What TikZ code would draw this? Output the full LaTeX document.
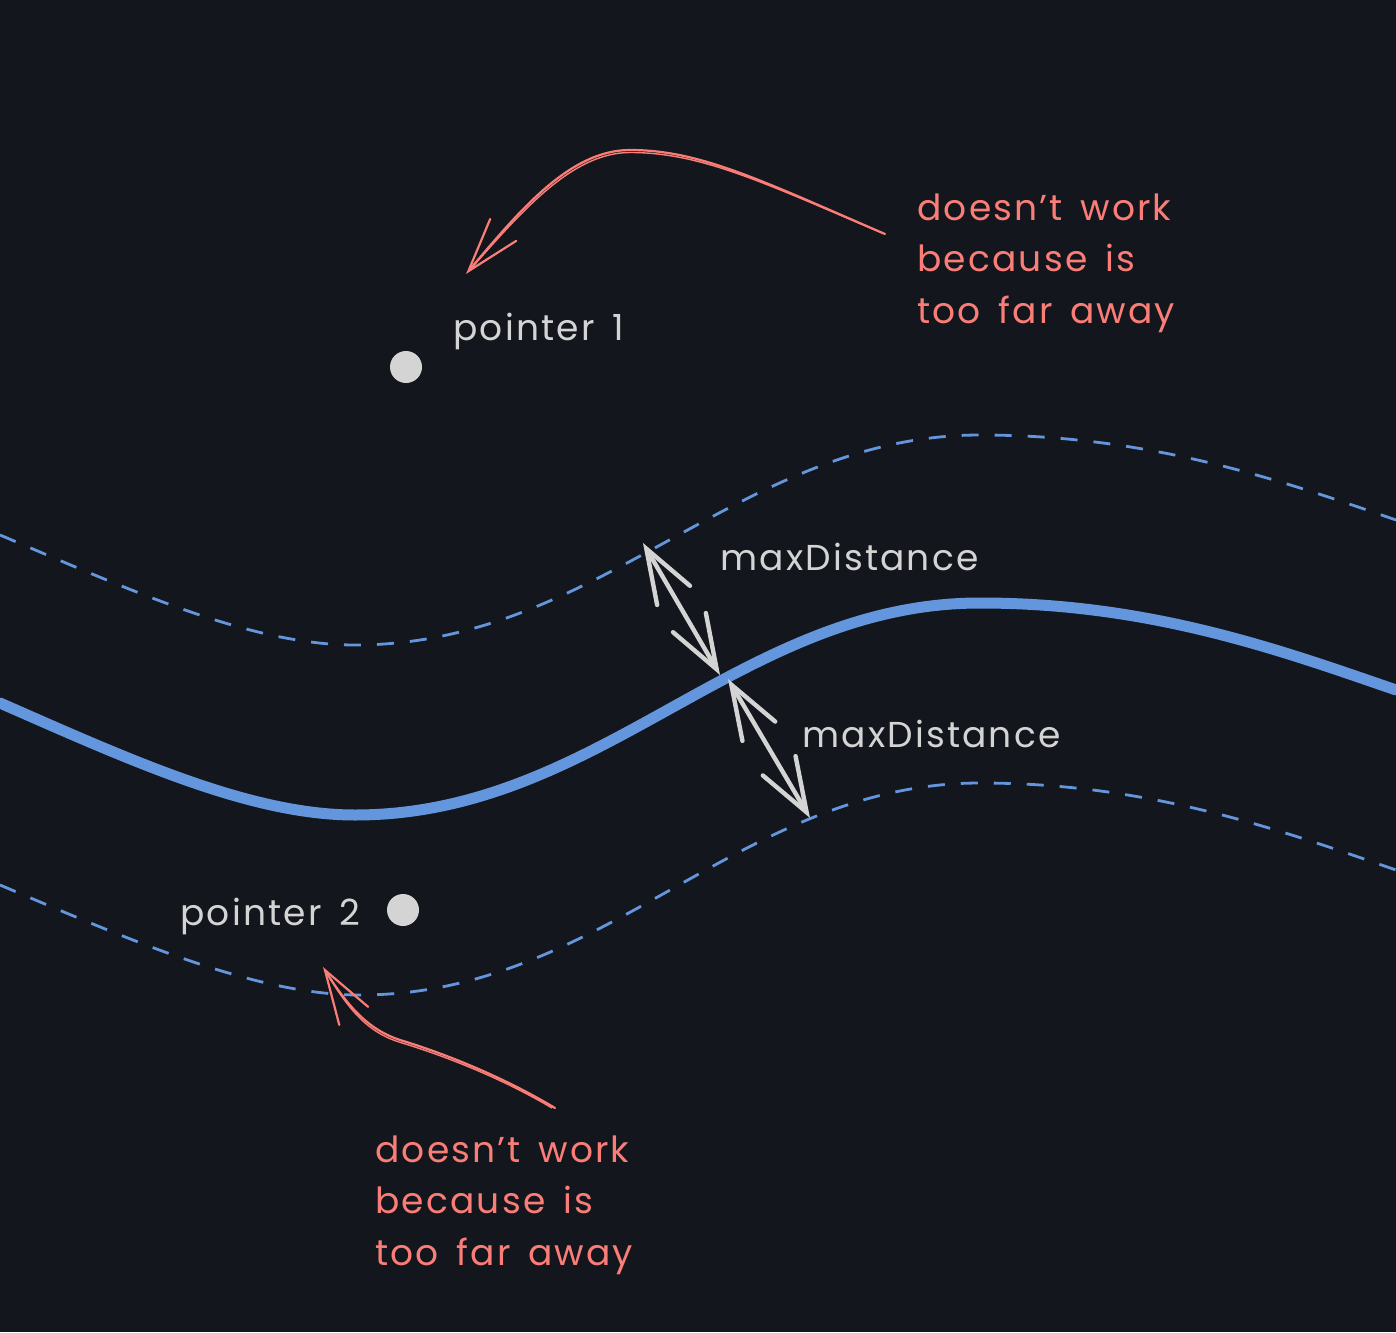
\documentclass[tikz,border=0pt]{standalone}
\usepackage{fontspec}
\setmainfont{Poppins}[LetterSpace=6, WordSpace=1.5]
\usetikzlibrary{arrows.meta}
\definecolor{bg}{HTML}{13161C}
\definecolor{curveblue}{HTML}{6396DC}
\definecolor{notered}{HTML}{FA7D78}
\definecolor{inkgray}{HTML}{D4D4D4}
\tikzset{
  txt/.style={inner sep=0pt, anchor=base west, font=\fontsize{18}{25.75}\selectfont},
  graytxt/.style={txt, text=inkgray},
  redtxt/.style={txt, text=notered, align=left},
  dot/.style={circle, fill=inkgray, draw=none, minimum size=16pt, inner sep=0pt},
  mainline/.style={curveblue, line width=5.5pt, line cap=round},
  limitline/.style={curveblue, line width=1.4pt, dash pattern=on 8.5pt off 8pt},
  measure/.style={inkgray, line width=2.2pt, line cap=round,
    {Straight Barb[length=27pt,width=19pt,line cap=round]}-{Straight Barb[length=27pt,width=19pt,line cap=round]}},
  note/.style={notered, line width=1.1pt, line cap=round,
    -{Straight Barb[length=27pt,width=17pt,line cap=round]}},
}
\begin{document}
\begin{tikzpicture}[x=0.5pt,y=-0.5pt]
\useasboundingbox (0,0) rectangle (1396,1332);
\fill[bg] (0,0) rectangle (1396,1332);

% curves
\draw[mainline] (0,703) .. controls (130,760) and (250,815) .. (355,815)
  .. controls (600,815) and (740,603) .. (980,603)
  .. controls (1150,603) and (1280,650) .. (1396,690);
\draw[limitline] (0,535) .. controls (130,590) and (250,645) .. (355,645)
  .. controls (600,645) and (740,435) .. (980,435)
  .. controls (1150,435) and (1280,480) .. (1396,520);
\draw[limitline] (0,885) .. controls (130,940) and (255,995) .. (360,995)
  .. controls (605,995) and (740,783) .. (980,783)
  .. controls (1150,783) and (1280,830) .. (1396,870);

% points
\node[dot] (p1) at (406,367) {};
\node[dot] (p2) at (403,910) {};
\node[graytxt] (p1lbl) at (453,340) {pointer 1};
\node[graytxt] (p2lbl) at (180,925) {pointer 2};

% maxDistance measures
\coordinate (upTop) at (643,543);
\coordinate (upBot) at (720,675);
\coordinate (loTop) at (728,679);
\coordinate (loBot) at (810,818);
\draw[measure] (upTop) -- (upBot);
\draw[measure] (loTop) -- (loBot);
\node[graytxt] (md1) at (720,570) {maxDistance};
\node[graytxt] (md2) at (802,747) {maxDistance};

% notes
\node[redtxt, anchor=north west] (n1) at (917,193) {doesn't work\\because is\\too far away};
\node[redtxt, anchor=north west] (n2) at (375,1135) {doesn't work\\because is\\too far away};

\coordinate (n1start) at (885,234);
\coordinate (n1tip) at (466,274);
\draw[note] (n1start) .. controls (760,180) and (700,150) .. (630,150)
  .. controls (570,150) and (520,210) .. (n1tip);
\draw[notered, line width=0.7pt] (882,233) .. controls (760,181) and (700,152.5) .. (630,152.5)
  .. controls (572,152.5) and (522,211) .. (468,272);

\coordinate (n2start) at (555,1108);
\coordinate (n2tip) at (323,967);
\draw[note] (n2start) .. controls (500,1075) and (440,1052) .. (400,1040)
  .. controls (370,1030) and (350,1010) .. (n2tip);
\draw[notered, line width=0.7pt] (552,1108) .. controls (498,1076) and (439,1054) .. (399,1042)
  .. controls (368,1032) and (349,1011) .. (325,970);
\end{tikzpicture}
\end{document}
